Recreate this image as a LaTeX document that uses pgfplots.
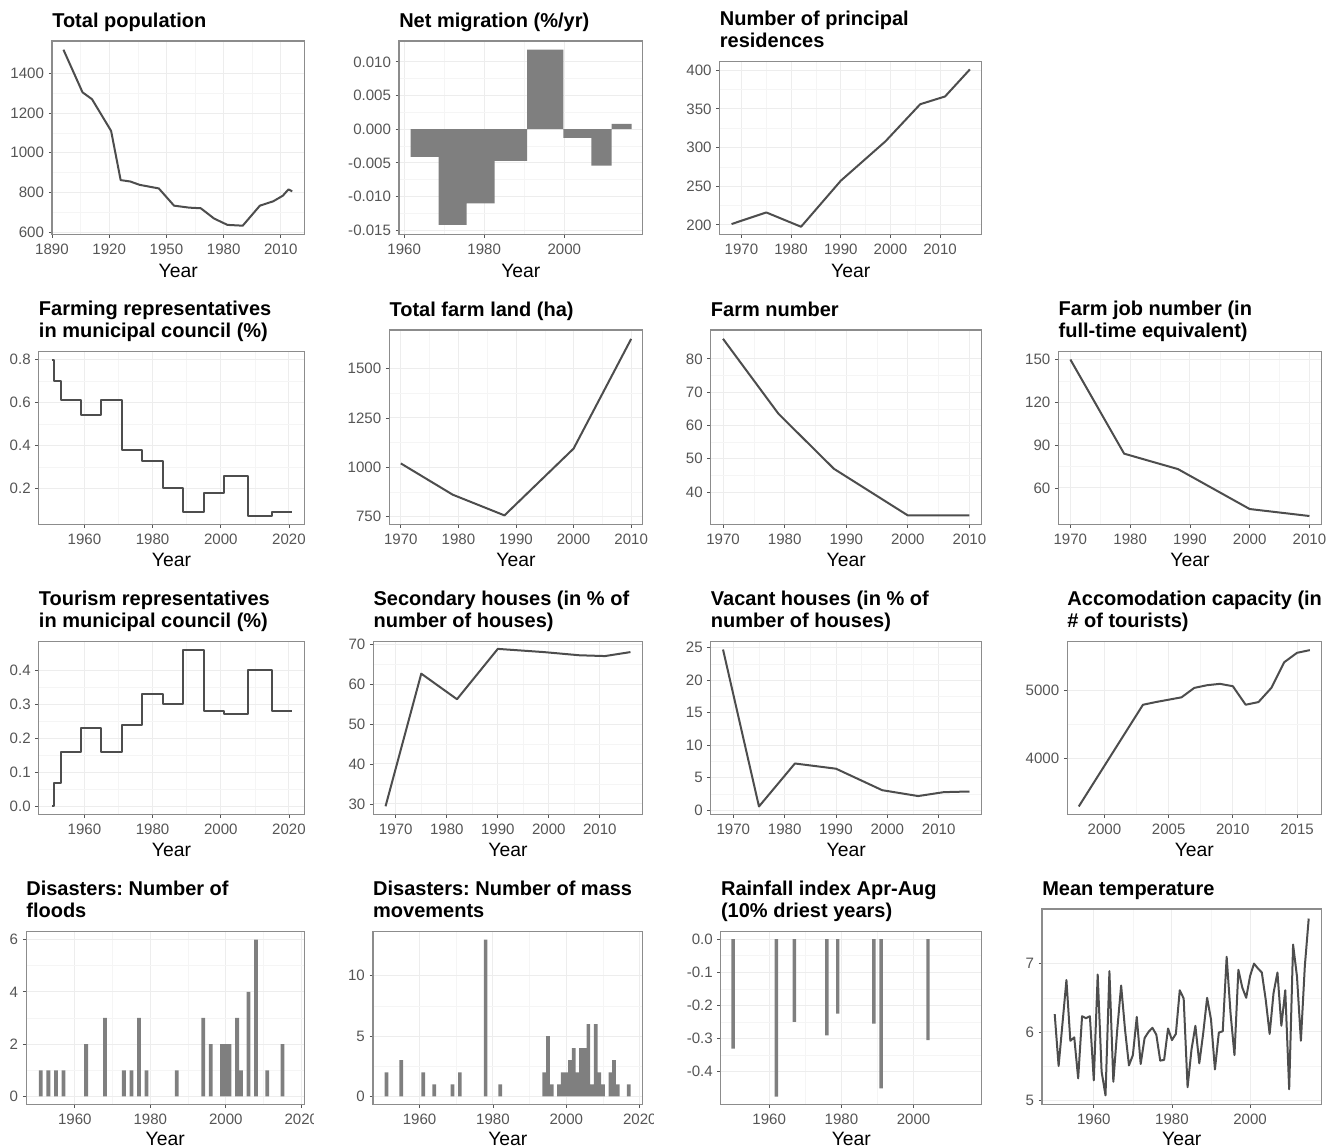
\documentclass[border=0pt]{standalone}
\usepackage{pgfplots}
\pgfplotsset{compat=1.18}
\usepackage{fontspec}
\setmainfont{Liberation Sans}
\frenchspacing
\definecolor{lin}{HTML}{4D4D4D}
\definecolor{bar}{HTML}{7F7F7F}
\definecolor{frm}{HTML}{8C8C8C}
\definecolor{tck}{HTML}{555555}
\definecolor{maj}{HTML}{EDEDED}
\definecolor{mnr}{HTML}{F5F5F5}
\pgfplotsset{
  panel/.style n args={4}{
    at={({#1*0.75pt},{(1148-#4)*0.75pt})},anchor=south west,
    scale only axis,
    width={(#2-#1)*0.75pt},height={(#4-#3)*0.75pt},
    axis line style={draw=frm,line width=0.9pt},
    tick align=outside,
    major tick length=2.5pt,minor tick length=0pt,
    tick style={draw=tck,line width=0.6pt},
    xtick pos=bottom,ytick pos=left,
    grid=both,minor tick num=1,
    major grid style={draw=maj,line width=0.7pt},
    minor grid style={draw=mnr,line width=0.4pt},
    tick label style={font=\fontsize{11.3}{12}\selectfont,text=tck},
    xticklabel style={anchor=base,yshift=-12.8pt},
    /pgf/number format/.cd,1000 sep={},assume math mode=true,fixed,
    /pgfplots/.cd,
    scaled ticks=false,
    xlabel={Year},
    xlabel style={at={(axis description cs:0.5,0)},anchor=base,yshift=-32pt,font=\fontsize{14.5}{16}\selectfont},
    title style={at={(axis description cs:0,1)},anchor=south west,align=left,inner xsep=0pt,inner ysep=6.3pt,yshift=-7pt,font=\fontsize{15}{16.5}\selectfont\bfseries},
  },
  onedec/.style={yticklabel style={/pgf/number format/.cd,fixed,fixed zerofill,precision=1}},
  lastrow/.style={xlabel style={yshift=1pt}},
  ln/.style={color=lin,line width=1.5pt,line join=round,no markers,forget plot},
  stp/.style={ln,const plot},
  br/.style={ybar,fill=bar,draw=none,forget plot,/pgf/bar shift=0pt,bar width=#1},
}
\begin{document}
\begin{tikzpicture}
\useasboundingbox (0,0) rectangle (1003.5pt,861pt);

% Row 1
\begin{axis}[panel={52}{304.3}{41}{234.5},title={Total population\strut},
  xmin=1890,xmax=2022.3,ymin=587.6,ymax=1564,
  xtick={1890,1920,1950,1980,2010},ytick={600,800,1000,1200,1400}]
\addplot[ln] coordinates {(1896,1520)(1906,1305)(1911,1270)(1921,1110)(1926,862)(1931,855)(1936,838)(1946,820)(1954,733)(1962,723)(1968,720)(1975,668)(1982,636)(1990,632)(1999,733)(2006,755)(2011,783)(2014,815)(2016,805)};
\end{axis}

\begin{axis}[panel={399}{642.7}{41}{234.5},title={Net migration (\%/yr)\strut},
  xmin=1958.7,xmax=2019.6,ymin=-0.01563,ymax=0.0131,
  xtick={1960,1980,2000},
  ytick={-0.015,-0.01,-0.005,0,0.005,0.01},
  yticklabels={-0.015,-0.010,-0.005,0.000,0.005,0.010}]
\addplot[ybar interval=1,fill=bar,draw=none,forget plot] coordinates {(1961.6,-0.0041)(1968.6,-0.0142)(1975.6,-0.011)(1982.6,-0.0047)(1990.7,0.0118)(1999.8,-0.0013)(2006.8,-0.0054)(2011.8,0.0008)(2016.8,0.0008)};
\end{axis}

\begin{axis}[panel={719.6}{981.8}{61.7}{234.5},title={Number of principal\\residences\strut},
  xmin=1965.6,xmax=2018.4,ymin=187.5,ymax=411,
  xtick={1970,1980,1990,2000,2010},ytick={200,250,300,350,400}]
\addplot[ln] coordinates {(1968,201)(1975,216)(1982,197.5)(1990,257)(1999,308)(2006,356)(2011,366)(2016,401)};
\end{axis}

% Row 2
\begin{axis}[panel={38.7}{304.3}{351.7}{524.3},title={Farming representatives\\in municipal council (\%)\strut},
  xmin=1946.6,xmax=2024.5,ymin=0.0335,ymax=0.8365,
  xtick={1960,1980,2000,2020},ytick={0.2,0.4,0.6,0.8},onedec]
\addplot[stp] coordinates {(1950.5,0.8)(1951,0.7)(1953,0.61)(1959,0.54)(1965,0.61)(1971,0.38)(1977,0.33)(1983,0.2)(1989,0.09)(1995,0.18)(2001,0.26)(2008,0.07)(2015,0.09)(2021,0.09)};
\end{axis}

\begin{axis}[panel={389.3}{642.7}{330}{524.3},title={Total farm land (ha)\strut},
  xmin=1968,xmax=2012,ymin=712,ymax=1695,
  xtick={1970,1980,1990,2000,2010},ytick={750,1000,1250,1500}]
\addplot[ln] coordinates {(1970,1020)(1979,862)(1988,757)(2000,1095)(2010,1650)};
\end{axis}

\begin{axis}[panel={710.7}{981.8}{330}{524.3},title={Farm number\strut},
  xmin=1968,xmax=2012,ymin=30.35,ymax=88.65,
  xtick={1970,1980,1990,2000,2010},ytick={40,50,60,70,80}]
\addplot[ln] coordinates {(1970,86)(1979,63.5)(1988,47)(2000,33)(2010,33)};
\end{axis}

\begin{axis}[panel={1058.4}{1321.4}{351.7}{524.3},title={Farm job number (in\\full-time equivalent)\strut},
  xmin=1968,xmax=2012,ymin=34.5,ymax=155.5,
  xtick={1970,1980,1990,2000,2010},ytick={60,90,120,150}]
\addplot[ln] coordinates {(1970,150)(1979,84)(1988,73.2)(2000,45.2)(2010,40.3)};
\end{axis}

% Row 3
\begin{axis}[panel={38.7}{304.3}{641.7}{814.3},title={Tourism representatives\\in municipal council (\%)\strut},
  xmin=1946.6,xmax=2024.5,ymin=-0.023,ymax=0.483,
  xtick={1960,1980,2000,2020},ytick={0,0.1,0.2,0.3,0.4},onedec]
\addplot[stp] coordinates {(1950.5,0)(1951,0.07)(1953,0.16)(1959,0.23)(1965,0.16)(1971,0.24)(1977,0.33)(1983,0.30)(1989,0.46)(1995,0.28)(2001,0.27)(2008,0.40)(2015,0.28)(2021,0.28)};
\end{axis}

\begin{axis}[panel={373.3}{642.7}{641.7}{814.3},title={Secondary houses (in \% of\\number of houses)\strut},
  xmin=1965.6,xmax=2018.4,ymin=27.4,ymax=70.6,
  xtick={1970,1980,1990,2000,2010},ytick={30,40,50,60,70}]
\addplot[ln] coordinates {(1968,29.4)(1975,62.6)(1982,56.2)(1990,68.8)(1999,68)(2006,67.2)(2011,67)(2016,68)};
\end{axis}

\begin{axis}[panel={710.7}{981.8}{641.7}{814.3},title={Vacant houses (in \% of\\number of houses)\strut},
  xmin=1965.6,xmax=2018.4,ymin=-0.6,ymax=25.9,
  xtick={1970,1980,1990,2000,2010},ytick={0,5,10,15,20,25}]
\addplot[ln] coordinates {(1968,24.7)(1975,0.6)(1982,7.2)(1990,6.4)(1999,3.1)(2006,2.2)(2011,2.8)(2016,2.9)};
\end{axis}

\begin{axis}[panel={1067.2}{1321.4}{641.7}{814.3},title={Accomodation capacity (in\\\# of tourists)\strut},
  xmin=1997.1,xmax=2016.9,ymin=3166,ymax=5725,
  xtick={2000,2005,2010,2015},ytick={4000,5000}]
\addplot[ln] coordinates {(1998,3282)(2003,4790)(2004,4830)(2005,4865)(2006,4900)(2007,5040)(2008,5080)(2009,5100)(2010,5065)(2011,4790)(2012,4830)(2013,5040)(2014,5420)(2015,5560)(2016,5600)};
\end{axis}

% Row 4
\begin{scope}
\clip (0,0) rectangle (235pt,861pt);
\begin{axis}[panel={26.1}{304.3}{931.7}{1104.3},lastrow,title={Disasters: Number of\\floods\strut},
  xmin=1947.1,xmax=2020.8,ymin=-0.3,ymax=6.3,
  xtick={1960,1980,2000,2020},ytick={0,2,4,6}]
\addplot[br=1] coordinates {(1951,1)(1953,1)(1955,1)(1957,1)(1963,2)(1968,3)(1973,1)(1975,1)(1977,3)(1979,1)(1987,1)(1994,3)(1996,2)(1999,2)(2000,2)(2001,2)(2003,3)(2004,1)(2006,4)(2008,6)(2011,1)(2015,2)};
\end{axis}
\end{scope}

\begin{scope}
\clip (0,0) rectangle (490pt,861pt);
\begin{axis}[panel={372.9}{642.7}{931.7}{1104.3},lastrow,title={Disasters: Number of mass\\movements\strut},
  xmin=1947.3,xmax=2020.8,ymin=-0.65,ymax=13.65,
  xtick={1960,1980,2000,2020},ytick={0,5,10}]
\addplot[br=1] coordinates {(1951,2)(1955,3)(1961,2)(1964,1)(1969,1)(1971,2)(1978,13)(1982,1)(1994,2)(1995,5)(1996,1)(1998,1)(1999,2)(2000,2)(2001,3)(2002,4)(2003,2)(2004,4)(2005,4)(2006,6)(2007,1)(2008,6)(2009,2)(2010,1)(2012,2)(2013,3)(2014,1)(2017,1)};
\end{axis}
\end{scope}

\begin{axis}[panel={720.8}{981.8}{931.7}{1104.3},lastrow,title={Rainfall index Apr-Aug\\(10\% driest years)\strut},
  xmin=1946.6,xmax=2018.9,ymin=-0.498,ymax=0.022,
  xtick={1960,1980,2000},
  ytick={-0.4,-0.3,-0.2,-0.1,0},
  yticklabels={-0.4,-0.3,-0.2,-0.1,0.0}]
\addplot[br=0.95] coordinates {(1950,-0.33)(1962,-0.475)(1967,-0.25)(1976,-0.29)(1979,-0.225)(1989,-0.255)(1991,-0.45)(2004,-0.305)};
\end{axis}

\begin{axis}[panel={1042}{1321.4}{909}{1104.3},lastrow,title={Mean temperature\strut},
  xmin=1946.75,xmax=2018.25,ymin=4.94,ymax=7.8,
  xtick={1960,1980,2000},ytick={5,6,7}]
\addplot[ln] coordinates {(1950,6.26)(1951,5.50)(1952,6.13)(1953,6.76)(1954,5.87)(1955,5.92)(1956,5.32)(1957,6.23)(1958,6.2)(1959,6.23)(1960,5.29)(1961,6.84)(1962,5.42)(1963,5.07)(1964,6.89)(1965,5.27)(1966,6.03)(1967,6.68)(1968,6.03)(1969,5.51)(1970,5.66)(1971,6.22)(1972,5.53)(1973,5.91)(1974,6.0)(1975,6.06)(1976,5.96)(1977,5.58)(1978,5.59)(1979,6.05)(1980,5.88)(1981,5.97)(1982,6.61)(1983,6.49)(1984,5.19)(1985,5.74)(1986,6.09)(1987,5.54)(1988,5.98)(1989,6.50)(1990,6.18)(1991,5.45)(1992,5.99)(1993,6.01)(1994,7.10)(1995,6.27)(1996,5.66)(1997,6.91)(1998,6.65)(1999,6.50)(2000,6.82)(2001,7.0)(2002,6.93)(2003,6.87)(2004,6.47)(2005,5.97)(2006,6.57)(2007,6.87)(2008,6.09)(2009,6.61)(2010,5.16)(2011,7.28)(2012,6.81)(2013,5.87)(2014,6.96)(2015,7.66)};
\end{axis}
\end{tikzpicture}
\end{document}
